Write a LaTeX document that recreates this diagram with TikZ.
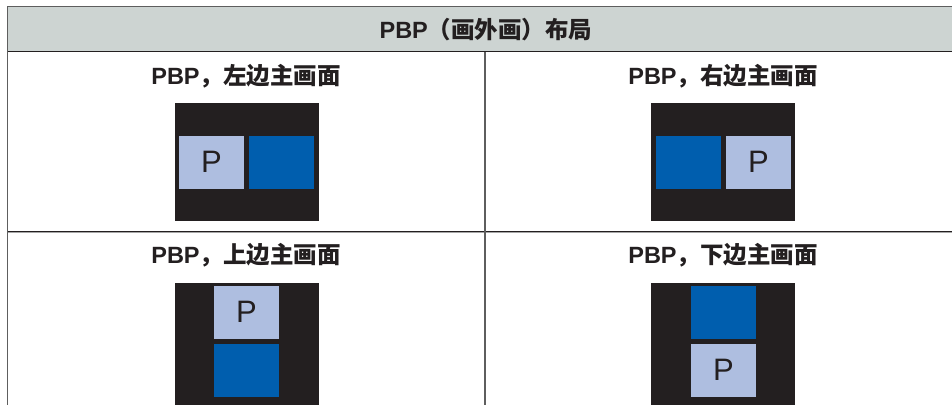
\documentclass[tikz,border=0pt]{standalone}
\usepackage{fontspec}
\setmainfont{Liberation Sans}
\newfontfamily\cjk{Noto Sans CJK SC}
\definecolor{hdrfill}{HTML}{CDD4D2}
\definecolor{graybd}{HTML}{5E5E5E}
\definecolor{darkln}{HTML}{231F20}
\definecolor{screen}{HTML}{231F20}
\definecolor{pip}{HTML}{AEBEE0}
\definecolor{mainblue}{HTML}{005EAE}
\tikzset{
  ttl/.style={inner sep=0pt, text=darkln, font=\fontsize{23.5}{26}\selectfont\bfseries},
  scr/.style={fill=screen, draw=none},
  pbox/.style={fill=pip, draw=none, inner sep=0pt, minimum width=65pt, minimum height=52.7pt, text=darkln, font=\fontsize{31}{33}\selectfont},
  mbox/.style={fill=mainblue, draw=none, inner sep=0pt, minimum width=65pt, minimum height=52.7pt}
}
\begin{document}
\begin{tikzpicture}[x=1pt,y=-1pt]
\useasboundingbox (0,0) rectangle (952,405);
% table
\fill[hdrfill] (7.5,6.7) rectangle (952,51.7);
\draw[graybd, line width=1.5pt] (952,6.7) -- (7.5,6.7) -- (7.5,405);
\draw[darkln, line width=1.5pt] (7.5,51.7) -- (952,51.7);
\draw[darkln, line width=1.2pt] (7.5,231.3) -- (952,231.3);
\draw[gray!70, line width=0.8pt] (8.3,232.6) -- (952,232.6);
\draw[graybd, line width=2pt] (485,52.4) -- (485,405);
% header
\node[ttl] (hdr) at (486,30) {PBP{\cjk（画外画）布局}};
% panel titles
\node[ttl] (t1) at (246,76) {PBP{\cjk，左边主画面}};
\node[ttl] (t2) at (723,76) {PBP{\cjk，右边主画面}};
\node[ttl] (t3) at (246,255) {PBP{\cjk，上边主画面}};
\node[ttl] (t4) at (723,255) {PBP{\cjk，下边主画面}};
% panel 1
\fill[scr] (175,102.7) rectangle (319,220.7);
\node[pbox] (p1) at (211.5,162.3) {P};
\node[mbox] (m1) at (281.5,162.3) {};
% panel 2
\fill[scr] (651,102.7) rectangle (795,220.7);
\node[mbox] (m2) at (688.5,162.3) {};
\node[pbox] (p2) at (758.5,162.3) {P};
% panel 3
\fill[scr] (175,282.7) rectangle (319,405);
\node[pbox] (p3) at (246.5,312.3) {P};
\node[mbox] (m3) at (246.5,370.3) {};
% panel 4
\fill[scr] (651,282.7) rectangle (795,405);
\node[mbox] (m4) at (723.5,312.3) {};
\node[pbox] (p4) at (723.5,370.3) {P};
\end{tikzpicture}
\end{document}
